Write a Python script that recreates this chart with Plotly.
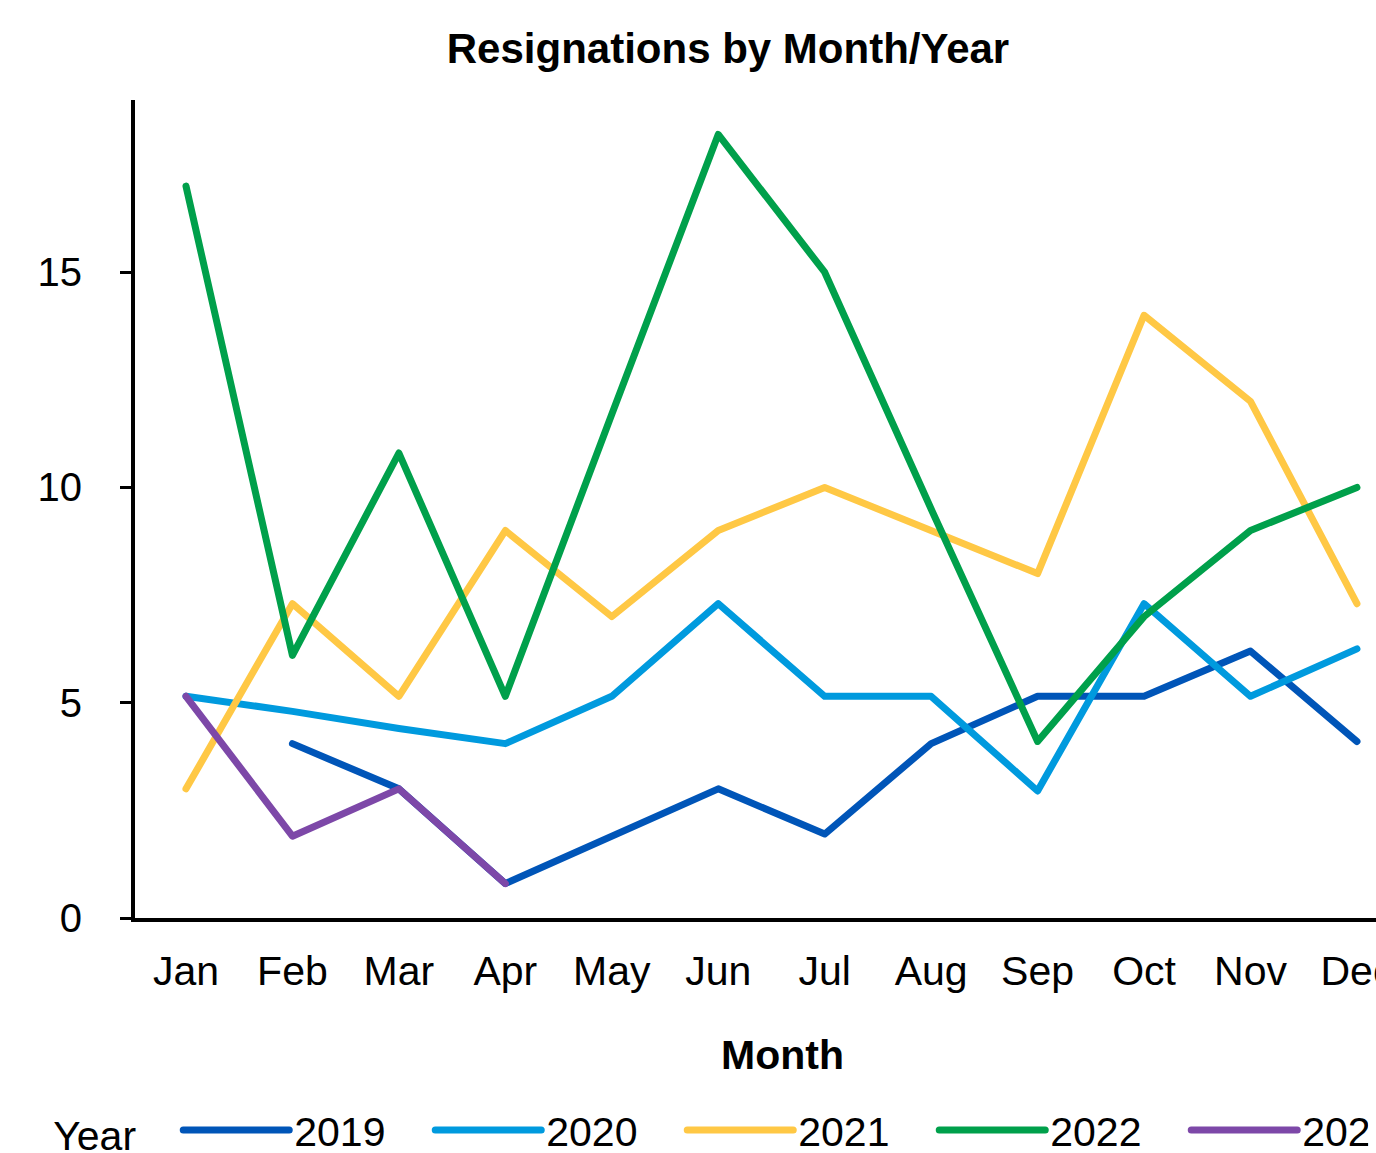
import plotly.graph_objects as go

months = ["Jan", "Feb", "Mar", "Apr", "May", "Jun", "Jul", "Aug", "Sep", "Oct", "Nov", "Dec"]
years = ["2019", "2020", "2021", "2022", "2023"]

v2019 = [None, 4.05, 3.0, 0.8, 1.9, 3.0, 1.95, 4.05, 5.15, 5.15, 6.2, 4.1]
v2020 = [5.15, 4.8, 4.4, 4.05, 5.15, 7.3, 5.15, 5.15, 2.95, 7.3, 5.15, 6.25]
v2021 = [3.0, 7.3, 5.15, 9.0, 7.0, 9.0, 10.0, 9.0, 8.0, 14.0, 12.0, 7.3]
v2022 = [17.0, 6.1, 10.8, 5.15, 11.7, 18.2, 15.0, 9.5, 4.1, 7.0, 9.0, 10.0]
v2023 = [5.15, 1.9, 3.0, 0.8, None, None, None, None, None, None, None, None]

series = [v2019, v2020, v2021, v2022, v2023]
colors = ["#0055B8", "#009ADE", "#FFC845", "#00A04B", "#7D48A8"]

FONT = "Liberation Sans, Arial, sans-serif"

fig = go.Figure()
for i, (name, vals, col) in enumerate(zip(years, series, colors)):
    kw = {}
    if i == len(years) - 1:
        kw["legendwidth"] = 60
    fig.add_trace(go.Scatter(
        x=months, y=vals, name=name, mode="lines",
        line=dict(color=col, width=7),
        connectgaps=False, **kw
    ))

fig.update_layout(
    width=1376, height=1153,
    margin=dict(l=135, r=0, t=100, b=235, autoexpand=False),
    paper_bgcolor="white", plot_bgcolor="white",
    font=dict(family=FONT, size=41, color="black"),
    title=dict(text="<b>Resignations by Month/Year</b>", x=728 / 1376, xref="container",
               xanchor="center", y=1 - 48 / 1153, yanchor="middle",
               font=dict(family=FONT, size=42, color="black")),
    showlegend=True,
    legend=dict(
        orientation="h", x=-0.0675, xanchor="left", y=-0.2597, yanchor="middle",
        title=dict(text="Year\u00a0\u00a0\u00a0", side="left", font=dict(size=41)),
        itemwidth=106, entrywidth=131, entrywidthmode="pixels",
        font=dict(family=FONT, size=41, color="black"),
        bgcolor="rgba(0,0,0,0)",
    ),
    xaxis=dict(
        type="category", categoryorder="array", categoryarray=months,
        range=[-0.479, 11.179],
        showline=True, linecolor="black", linewidth=4,
        ticks="", showgrid=False, zeroline=False,
        tickfont=dict(family=FONT, size=41, color="black"),
        ticklabelstandoff=14,
    ),
    yaxis=dict(
        range=[0, 19], tickvals=[0, 5, 10, 15],
        showline=True, linecolor="black", linewidth=4,
        ticks="outside", ticklen=11, tickwidth=3, tickcolor="black",
        showgrid=False, zeroline=False,
        tickfont=dict(family=FONT, size=40, color="black"),
        ticklabelstandoff=30,
    ),
    annotations=[dict(
        text="<b>Month</b>", xref="paper", yref="paper",
        x=(782 - 135) / 1241, y=(918 - 1055) / 818, xanchor="center", yanchor="middle",
        showarrow=False, font=dict(family=FONT, size=41, color="black"),
    )],
)

post = (
    "var s=document.createElement('style');"
    "s.innerHTML='html,body{margin:0!important;padding:0!important;overflow:hidden;}"
    " .scatterlayer path.js-line, .legendlines path{stroke-linejoin:round!important;stroke-linecap:round!important;}';"
    "document.head.appendChild(s);"
)

fig.write_html("out.html", post_script=post, config={"displayModeBar": False})
